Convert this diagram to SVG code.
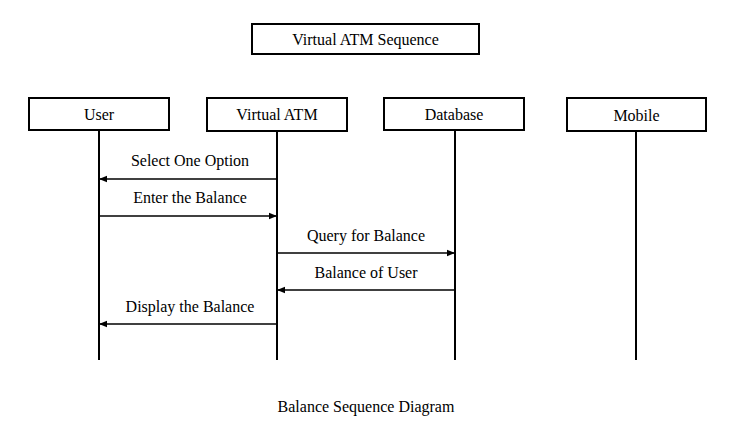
<svg xmlns="http://www.w3.org/2000/svg" width="731" height="438" viewBox="0 0 731 438">
<style>
.box{fill:#fff;stroke:#000;stroke-width:2}
.life{stroke:#000;stroke-width:2}
.msg{stroke:#000;stroke-width:1.5;fill:none;marker-end:url(#ah)}
text{font-family:"Liberation Serif","Times New Roman",serif;font-size:16px;fill:#000;text-anchor:middle}
</style>
<defs>
<marker id="ah" viewBox="0 0 10 10" refX="10" refY="5" markerWidth="8" markerHeight="8" markerUnits="userSpaceOnUse" orient="auto">
<path d="M0,1 L10,5 L0,9 z" fill="#000"/>
</marker>
</defs>
<rect width="731" height="438" fill="#fff"/>
<g id="title"><rect class="box" x="252" y="24" width="227" height="30"/><text x="365.5" y="45">Virtual ATM Sequence</text></g>
<g id="connectors">
<line class="life" x1="99" y1="130" x2="99" y2="360"/>
<line class="life" x1="277" y1="131" x2="277" y2="360"/>
<line class="life" x1="455" y1="130" x2="455" y2="360"/>
<line class="life" x1="636" y1="131" x2="636" y2="360"/>
<line class="msg" x1="277" y1="179" x2="99" y2="179"/>
<line class="msg" x1="99" y1="216" x2="277" y2="216"/>
<line class="msg" x1="277" y1="253" x2="455" y2="253"/>
<line class="msg" x1="455" y1="290" x2="277" y2="290"/>
<line class="msg" x1="277" y1="324" x2="99" y2="324"/>
<text x="190" y="166">Select One Option</text>
<text x="190" y="203">Enter the Balance</text>
<text x="366" y="241">Query for Balance</text>
<text x="366" y="278">Balance of User</text>
<text x="190" y="312">Display the Balance</text>
</g>
<g id="user"><rect class="box" x="29" y="98" width="140" height="32"/><text x="99" y="120">User</text></g>
<g id="atm"><rect class="box" x="207" y="98" width="140" height="33"/><text x="277" y="120">Virtual ATM</text></g>
<g id="database"><rect class="box" x="384" y="98" width="140" height="32"/><text x="454" y="120">Database</text></g>
<g id="mobile"><rect class="box" x="567" y="98" width="139" height="33"/><text x="636.5" y="121">Mobile</text></g>
<text id="caption" x="366" y="412">Balance Sequence Diagram</text>
</svg>
